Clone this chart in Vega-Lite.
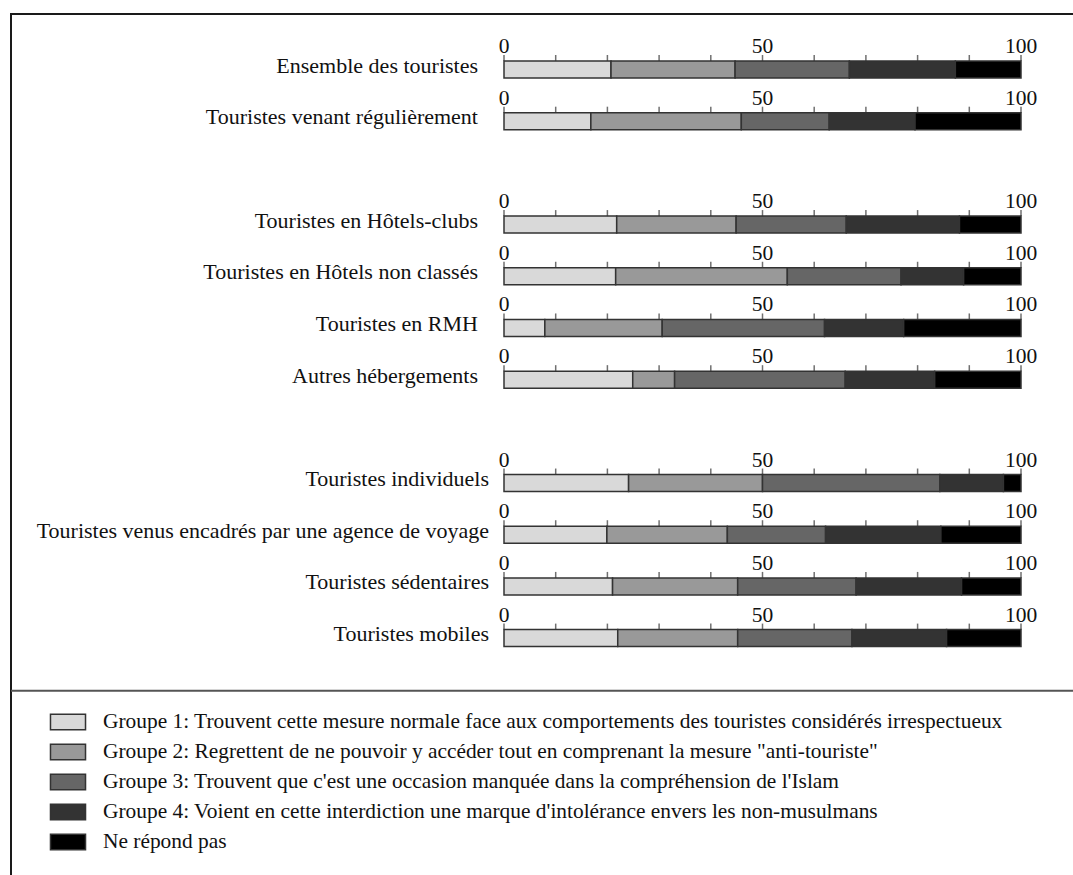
{
  "$schema": "https://vega.github.io/schema/vega-lite/v6.json",
  "width": 1073,
  "height": 875,
  "autosize": {"type": "fit", "contains": "padding"},
  "padding": {"left": 10, "top": 14, "right": -6, "bottom": -6},
  "background": "white",
  "config": {"font": "Liberation Serif", "view": {"stroke": "#1a1a1a", "strokeWidth": 2}},
  "datasets": {
    "cats": [
      {"key": "g1", "cat": "Groupe 1: Trouvent cette mesure normale face aux comportements des touristes considérés irrespectueux"},
      {"key": "g2", "cat": "Groupe 2: Regrettent de ne pouvoir y accéder tout en comprenant la mesure \"anti-touriste\""},
      {"key": "g3", "cat": "Groupe 3: Trouvent que c'est une occasion manquée dans la compréhension de l'Islam"},
      {"key": "g4", "cat": "Groupe 4: Voient en cette interdiction une marque d'intolérance envers les non-musulmans"},
      {"key": "g5", "cat": "Ne répond pas"}
    ],
    "ticks": [
      {"row": "Ensemble des touristes", "t": [0, 10, 20, 30, 40, 50, 60, 70, 80, 90, 100]},
      {"row": "Touristes venant régulièrement", "t": [0, 10, 20, 30, 40, 50, 60, 70, 80, 90, 100]},
      {"row": "Touristes en Hôtels-clubs", "t": [0, 10, 20, 30, 40, 50, 60, 70, 80, 90, 100]},
      {"row": "Touristes en Hôtels non classés", "t": [0, 10, 20, 30, 40, 50, 60, 70, 80, 90, 100]},
      {"row": "Touristes en RMH", "t": [0, 10, 20, 30, 40, 50, 60, 70, 80, 90, 100]},
      {"row": "Autres hébergements", "t": [0, 10, 20, 30, 40, 50, 60, 70, 80, 90, 100]},
      {"row": "Touristes individuels", "t": [0, 10, 20, 30, 40, 50, 60, 70, 80, 90, 100]},
      {"row": "Touristes venus encadrés par une agence de voyage", "t": [0, 10, 20, 30, 40, 50, 60, 70, 80, 90, 100]},
      {"row": "Touristes sédentaires", "t": [0, 10, 20, 30, 40, 50, 60, 70, 80, 90, 100]},
      {"row": "Touristes mobiles", "t": [0, 10, 20, 30, 40, 50, 60, 70, 80, 90, 100]}
    ]
  },
  "data": {
    "values": [
      {"row": "Ensemble des touristes", "grp": 1, "g1": 20.7, "g2": 24.0, "g3": 22.1, "g4": 20.5, "g5": 12.7},
      {"row": "Touristes venant régulièrement", "grp": 1, "g1": 16.8, "g2": 29.1, "g3": 17.0, "g4": 16.6, "g5": 20.5},
      {"row": "Touristes en Hôtels-clubs", "grp": 2, "g1": 21.8, "g2": 23.1, "g3": 21.3, "g4": 21.9, "g5": 11.9},
      {"row": "Touristes en Hôtels non classés", "grp": 2, "g1": 21.6, "g2": 33.2, "g3": 22.0, "g4": 12.1, "g5": 11.1},
      {"row": "Touristes en RMH", "grp": 2, "g1": 7.9, "g2": 22.7, "g3": 31.4, "g4": 15.3, "g5": 22.7},
      {"row": "Autres hébergements", "grp": 2, "g1": 24.9, "g2": 8.1, "g3": 33.0, "g4": 17.3, "g5": 16.7},
      {"row": "Touristes individuels", "grp": 3, "g1": 24.1, "g2": 25.9, "g3": 34.3, "g4": 12.3, "g5": 3.4},
      {"row": "Touristes venus encadrés par une agence de voyage", "grp": 3, "g1": 19.9, "g2": 23.3, "g3": 19.0, "g4": 22.3, "g5": 15.5},
      {"row": "Touristes sédentaires", "grp": 3, "g1": 21.0, "g2": 24.2, "g3": 22.9, "g4": 20.4, "g5": 11.5},
      {"row": "Touristes mobiles", "grp": 3, "g1": 22.0, "g2": 23.2, "g3": 22.1, "g4": 18.3, "g5": 14.4}
    ]
  },
  "layer": [
    {
      "transform": [
        {"fold": ["g1", "g2", "g3", "g4", "g5"], "as": ["key", "v"]},
        {"lookup": "key", "from": {"data": {"name": "cats"}, "key": "key", "fields": ["cat"]}}
      ],
      "mark": {"type": "bar", "stroke": "#333", "strokeWidth": 1.5},
      "encoding": {
        "y": {"field": "row", "type": "nominal", "axis": null,
          "scale": {"domain": ["Ensemble des touristes", "Touristes venant régulièrement", " ", "Touristes en Hôtels-clubs", "Touristes en Hôtels non classés", "Touristes en RMH", "Autres hébergements", "  ", "Touristes individuels", "Touristes venus encadrés par une agence de voyage", "Touristes sédentaires", "Touristes mobiles", "sep"], "range": [47, 684.3], "paddingInner": 0.6711, "paddingOuter": 0}},
        "x": {"field": "v", "type": "quantitative", "stack": "zero", "axis": null, "scale": {"domain": [0, 100], "range": [493, 1010]}},
        "color": {"field": "cat", "type": "nominal",
          "scale": {"range": ["#d9d9d9", "#999999", "#666666", "#333333", "#000000"]},
          "legend": {"title": null, "orient": "none", "legendX": 44, "legendY": 695,
            "symbolType": "M-1.46,-0.65H1.46V0.65H-1.46Z", "symbolSize": 576,
            "symbolStrokeColor": "#333", "symbolStrokeWidth": 1.5,
            "labelFont": "Liberation Serif", "labelFontSize": 21.4, "labelColor": "#111",
            "labelLimit": 1200, "labelOffset": 22, "rowPadding": 6}}
      }
    },
    {
      "data": {"name": "ticks"},
      "transform": [{"flatten": ["t"]}],
      "mark": {"type": "tick", "color": "#333", "thickness": 1.5, "size": 6, "yOffset": -11.5},
      "encoding": {
        "y": {"field": "row", "type": "nominal", "axis": null},
        "x": {"field": "t", "type": "quantitative", "axis": null}
      }
    },
    {
      "data": {"name": "ticks"},
      "transform": [{"flatten": ["t"]}, {"filter": "datum.t % 50 == 0"}],
      "mark": {"type": "text", "fontSize": 21.5, "align": "center", "baseline": "alphabetic", "dy": -8, "color": "#111"},
      "encoding": {
        "y": {"field": "row", "type": "nominal", "axis": null, "bandPosition": 0},
        "x": {"field": "t", "type": "quantitative", "axis": null},
        "text": {"field": "t", "type": "quantitative"}
      }
    },
    {
      "transform": [{"filter": "datum.grp < 3"}],
      "mark": {"type": "text", "fontSize": 22, "align": "right", "baseline": "alphabetic", "dx": -26, "dy": 3, "color": "#111"},
      "encoding": {
        "y": {"field": "row", "type": "nominal", "axis": null, "bandPosition": 0.5},
        "x": {"datum": 0, "type": "quantitative"},
        "text": {"field": "row"}
      }
    },
    {
      "transform": [{"filter": "datum.grp == 3"}],
      "mark": {"type": "text", "fontSize": 22, "align": "right", "baseline": "alphabetic", "dx": -15, "dy": 3, "color": "#111"},
      "encoding": {
        "y": {"field": "row", "type": "nominal", "axis": null, "bandPosition": 0.5},
        "x": {"datum": 0, "type": "quantitative"},
        "text": {"field": "row"}
      }
    },
    {
      "data": {"values": [{}]},
      "mark": {"type": "rule", "color": "#555", "strokeWidth": 2, "yOffset": 1},
      "encoding": {
        "y": {"datum": "sep", "type": "nominal"}
      }
    }
  ]
}
